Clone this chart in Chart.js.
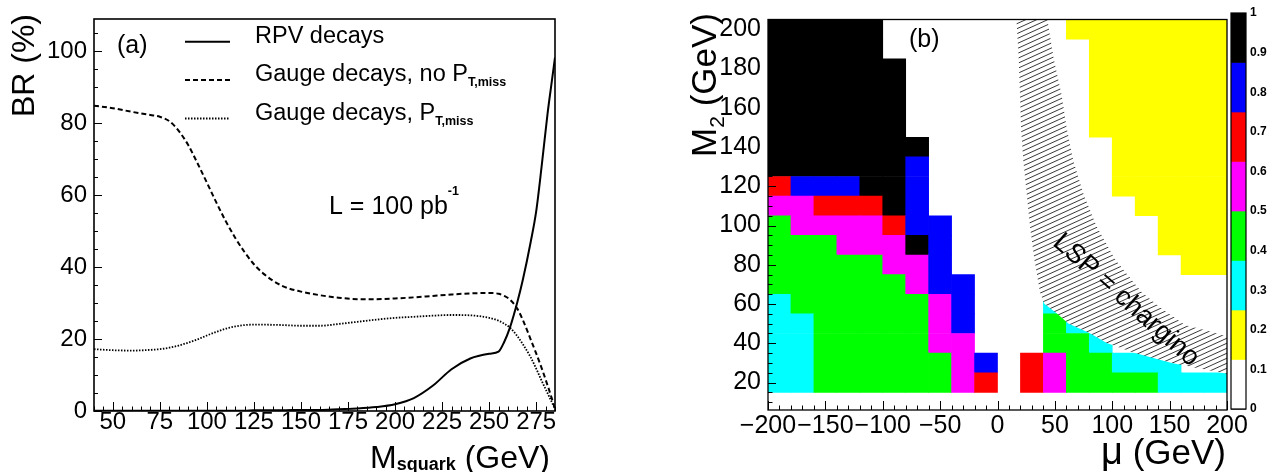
<!DOCTYPE html>
<html>
<head>
<meta charset="utf-8">
<title>Squark decays and chargino scan</title>
<script src="https://cdn.jsdelivr.net/npm/chart.js@4.4.1/dist/chart.umd.min.js"></script>
<style>
  html, body { margin: 0; padding: 0; background: #fff; }
  #page { position: relative; width: 1275px; height: 472px; overflow: hidden; }
  #page canvas { position: absolute; top: 0; }
</style>
</head>
<body>
<div id="page">
  <canvas id="brChart" width="600" height="472" style="left:0px"></canvas>
  <canvas id="scanChart" width="635" height="472" style="left:640px"></canvas>
  <canvas id="paletteChart" width="53" height="472" style="left:1222px"></canvas>
</div>
<script>
const FONT = '"Liberation Sans", Arial, Helvetica, sans-serif';
Chart.defaults.font.family = FONT;
Chart.defaults.color = '#000';

// (a) branching ratios (%) against squark mass (GeV)
const squarkMass = [40, 50, 60, 70, 75, 80, 85, 90, 95, 100, 105, 110, 115, 120, 125, 130, 140, 150, 160, 170,
  180, 190, 200, 210, 220, 230, 240, 250, 255, 258, 261, 265, 268, 272, 275, 278, 281, 283, 285];
const brRpv = [0.1, 0.1, 0.1, 0.1, 0.1, 0.1, 0.1, 0.1, 0.1, 0.1, 0.1, 0.1, 0.1, 0.1, 0.2, 0.2, 0.2, 0.3, 0.3, 0.5,
  0.7, 1.1, 1.9, 3.6, 7.0, 11.6, 14.6, 15.9, 16.5, 19.2, 23.1, 30.3, 36.7, 46.8, 55.5, 68.5, 82.5, 90.5, 98.3];
const brGaugeNoMiss = [84.9, 84.2, 83.2, 82.3, 81.8, 80.6, 77.9, 74.0, 68.9, 63.5, 58.0, 52.8, 48.2, 44.2, 40.8, 38.2, 34.8, 33.2, 32.2, 31.5,
  31.1, 31.1, 31.3, 31.6, 32.0, 32.4, 32.7, 32.8, 32.6, 32.0, 31.0, 28.4, 25.2, 20.0, 16.0, 11.8, 7.2, 4.0, 0.6];
const brGaugeMiss = [17.2, 16.9, 16.8, 17.0, 17.2, 17.6, 18.2, 19.0, 19.9, 21.0, 22.0, 22.9, 23.5, 23.9, 24.0, 24.0, 23.9, 23.7, 23.7, 24.2,
  24.8, 25.4, 25.9, 26.2, 26.5, 26.7, 26.6, 25.9, 25.1, 24.3, 23.2, 20.8, 18.5, 15.0, 11.8, 8.3, 5.0, 2.8, 0.5];
const seriesNames = ['RPV decays', 'Gauge decays, no P', 'Gauge decays, P'];
const seriesSubs = ['', 'T,miss', 'T,miss'];
const massTicks = [50, 75, 100, 125, 150, 175, 200, 225, 250, 275];
const brTicks = [0, 20, 40, 60, 80, 100];

// (b) BR(RPV) in the (mu, M2) plane, one character per cell
const muBins = [-190, -170, -150, -130, -110, -90, -70, -50, -30, -10, 10, 30, 50, 70, 90, 110, 130, 150, 170, 190];
const m2Bins = [200, 190, 180, 170, 160, 150, 140, 130, 120, 110, 100, 90, 80, 70, 60, 50, 40, 30, 20];
const scanRows = [
  'kkkkk........yyyyyyy',
  'kkkkk.........yyyyyy',
  'kkkkkk........yyyyyy',
  'kkkkkk........yyyyyy',
  'kkkkkk........yyyyyy',
  'kkkkkk........yyyyyy',
  'kkkkkkk........yyyyy',
  'kkkkkkb........yyyyy',
  'rbbbkkb........yyyyy',
  'mmrrrkb.........yyyy',
  'gmmmmrbb.........yyy',
  'gggmmmkb.........yyy',
  'gggggmmb..........yy',
  'ggggggmbb...........',
  'cggggggmb...c.......',
  'ccgggggmb...gc......',
  'ccgggggmm...ggc.....',
  'ccggggggmb.rmggccc..',
  'ccggggggmr.rmggggccc'
];
const cellBR = { y: 0.19, c: 0.31, g: 0.44, m: 0.56, r: 0.69, b: 0.81, k: 0.94 };
const muTicks = [-200, -150, -100, -50, 0, 50, 100, 150, 200];
const m2Ticks = [20, 40, 60, 80, 100, 120, 140, 160, 180, 200];

// LSP = chargino band (mu, M2)
const bandLowMu = [16.5, 18.5, 19.6, 20.5, 22.5, 25.4, 28.3, 32.1, 37.0, 40.8, 52.1, 61.7, 80.6, 95.2, 119.8, 151.8, 195.4, 200];
const bandLowM2 = [205, 185, 166.5, 149.7, 133, 116.3, 99.5, 82.8, 66, 60.2, 55.1, 50.1, 45.1, 40.1, 35.1, 30, 25, 24.5];
const bandHighMu = [43.5, 49, 55.9, 60.3, 66.1, 74.8, 86.4, 102.4, 125.7, 144, 163.4, 182, 200];
const bandHighM2 = [205, 185, 166.5, 149.7, 133, 116.3, 99.5, 82.8, 66, 57.2, 49.3, 46.5, 43.5];

// colour palette
const paletteEdges = [0, 0.125, 0.25, 0.375, 0.5, 0.625, 0.75, 0.875, 1];
const paletteColors = ['#ffffff', '#ffff00', '#00ffff', '#00ff00', '#ff00ff', '#ff0000', '#0000ff', '#000000'];
const paletteTicks = [0, 0.1, 0.2, 0.3, 0.4, 0.5, 0.6, 0.7, 0.8, 0.9, 1];

function range(a, b, step) {
    const out = [];
    for (let v = a; v <= b + 1e-9; v += step) out.push(+v.toFixed(6));
    return out;
}

function colorFor(br) {
    const k = Math.min(paletteColors.length - 1, Math.floor(br / 0.125));
    return paletteColors[k];
}

// text with sub/superscripts: parts = [text, size, dy, weight]
function richText(ctx, parts, x, y, align) {
    let w = 0;
    parts.forEach(p => {
        ctx.font = (p[3] || 'normal') + ' ' + p[1] + 'px ' + FONT;
        w += ctx.measureText(p[0]).width;
    });
    let cx = align === 'right' ? x - w : (align === 'center' ? x - w / 2 : x);
    ctx.textAlign = 'left';
    ctx.textBaseline = 'alphabetic';
    parts.forEach(p => {
        ctx.font = (p[3] || 'normal') + ' ' + p[1] + 'px ' + FONT;
        ctx.fillText(p[0], cx, y + (p[2] || 0));
        cx += ctx.measureText(p[0]).width;
    });
}

function drawInwardTicks(chart, axis, majors, minors, majorLen, minorLen) {
    const scale = chart.scales[axis];
    const a = chart.chartArea;
    const ctx = chart.ctx;
    ctx.save();
    ctx.strokeStyle = '#000';
    ctx.lineWidth = 1;
    ctx.beginPath();
    const mark = (v, len) => {
        const p = Math.round(scale.getPixelForValue(v)) + 0.5;
        if (axis === 'x') { ctx.moveTo(p, a.bottom); ctx.lineTo(p, a.bottom - len); }
        else { ctx.moveTo(a.left, p); ctx.lineTo(a.left + len, p); }
    };
    minors.forEach(v => mark(v, minorLen));
    majors.forEach(v => mark(v, majorLen));
    ctx.stroke();
    ctx.restore();
}

function drawFrame(chart, width) {
    const a = chart.chartArea;
    const ctx = chart.ctx;
    ctx.save();
    ctx.strokeStyle = '#000';
    ctx.lineWidth = width;
    ctx.strokeRect(a.left, a.top, a.right - a.left, a.bottom - a.top);
    ctx.restore();
}

// ---------- panel (a)
const panelA = {
    id: 'panelA',
    afterDatasetsDraw(chart) {
        const ctx = chart.ctx;
        const a = chart.chartArea;
        drawFrame(chart, 1.6);
        drawInwardTicks(chart, 'x', massTicks, range(40, 285, 5), 9, 4.5);
        drawInwardTicks(chart, 'y', brTicks, range(0, 105, 5), 8, 4);

        ctx.save();
        ctx.fillStyle = '#000';
        // legend
        const rows = [41.7, 80, 118.5];
        chart.data.datasets.forEach((ds, i) => {
            ctx.save();
            ctx.strokeStyle = ds.borderColor;
            ctx.lineWidth = ds.borderWidth;
            ctx.setLineDash(ds.borderDash || []);
            ctx.beginPath();
            ctx.moveTo(a.left + 91, rows[i]);
            ctx.lineTo(a.left + 136, rows[i]);
            ctx.stroke();
            ctx.restore();
            const parts = [[ds.label, 23.5]];
            if (seriesSubs[i]) parts.push([seriesSubs[i], 12.5, 5, 'bold']);
            richText(ctx, parts, a.left + 161, rows[i] + 1, 'left');
        });
        richText(ctx, [['(a)', 25]], a.left + 23, 53, 'left');
        richText(ctx, [['L = 100 pb', 25], ['-1', 12.5, -19, 'bold']], 329, 213.5, 'left');

        // axis titles
        richText(ctx, [['M', 32], ['squark', 18, 1.5, 'bold'], [' (GeV)', 32]], 550, 468, 'right');
        ctx.translate(34, 14);
        ctx.rotate(-Math.PI / 2);
        richText(ctx, [['BR (%)', 32]], 0, 0, 'right');
        ctx.restore();
    }
};

new Chart(document.getElementById('brChart'), {
    type: 'line',
    data: {
        datasets: [
            {
                label: seriesNames[0],
                data: squarkMass.map((m, i) => ({ x: m, y: brRpv[i] })),
                borderColor: '#000', borderWidth: 2, pointRadius: 0,
                cubicInterpolationMode: 'monotone'
            },
            {
                label: seriesNames[1],
                data: squarkMass.map((m, i) => ({ x: m, y: brGaugeNoMiss[i] })),
                borderColor: '#000', borderWidth: 2, borderDash: [5, 3], pointRadius: 0,
                cubicInterpolationMode: 'monotone'
            },
            {
                label: seriesNames[2],
                data: squarkMass.map((m, i) => ({ x: m, y: brGaugeMiss[i] })),
                borderColor: '#000', borderWidth: 1.8, borderDash: [1.5, 1.5], pointRadius: 0,
                cubicInterpolationMode: 'monotone'
            }
        ]
    },
    options: {
        responsive: false,
        animation: false,
        layout: { padding: { left: 0, right: 45, top: 13, bottom: 0 } },
        plugins: { legend: { display: false }, tooltip: { enabled: false } },
        scales: {
            x: {
                type: 'linear', min: 40, max: 285,
                afterBuildTicks: s => { s.ticks = massTicks.map(v => ({ value: v })); },
                afterFit: s => { s.height = 61; },
                grid: { display: false, drawTicks: false },
                border: { display: false },
                ticks: { autoSkip: false, maxRotation: 0, minRotation: 0, padding: -1, font: { size: 24, lineHeight: 1 } }
            },
            y: {
                type: 'linear', min: 0, max: 109,
                afterBuildTicks: s => { s.ticks = brTicks.map(v => ({ value: v })); },
                afterFit: s => { s.width = 94; },
                grid: { display: false, drawTicks: false },
                border: { display: false },
                ticks: { padding: 7, font: { size: 24, lineHeight: 1 } }
            }
        }
    },
    plugins: [panelA]
});

// ---------- panel (b)
const cellPoints = [];
const cellColors = [];
scanRows.forEach((row, j) => {
    [...row].forEach((ch, i) => {
        if (!(ch in cellBR)) return;
        cellPoints.push({ x: muBins[i], y: [m2Bins[j] - 5, m2Bins[j] + 5] });
        cellColors.push(colorFor(cellBR[ch]));
    });
});

const bandPath = bandLowMu.map((m, i) => ({ x: m, y: bandLowM2[i] }))
    .concat(bandHighMu.map((m, i) => ({ x: m, y: bandHighM2[i] })).reverse());

// white background with thin rising hatch lines
const hatch = (() => {
    const w = 11, h = 5;
    const tile = document.createElement('canvas');
    tile.width = w; tile.height = h;
    const g = tile.getContext('2d');
    g.fillStyle = '#ffffff';
    g.fillRect(0, 0, w, h);
    g.strokeStyle = '#222';
    g.lineWidth = 0.9;
    for (let k = -1; k <= 1; k++) {
        g.beginPath();
        g.moveTo(0, h + h * k);
        g.lineTo(w, h * k);
        g.stroke();
    }
    return g.createPattern(tile, 'repeat');
})();

const panelB = {
    id: 'panelB',
    afterDatasetsDraw(chart) {
        const ctx = chart.ctx;
        const a = chart.chartArea;
        const sx = chart.scales.x, sy = chart.scales.y;
        drawFrame(chart, 1.3);
        drawInwardTicks(chart, 'x', muTicks, range(-200, 200, 10), 9, 4.5);
        drawInwardTicks(chart, 'y', m2Ticks, range(10, 205, 5), 8, 4.5);

        ctx.save();
        ctx.fillStyle = '#000';
        richText(ctx, [['(b)', 25]], a.left + 141, 47, 'left');

        // band label
        ctx.save();
        ctx.translate(sx.getPixelForValue(112), sy.getPixelForValue(62));
        ctx.rotate(41.5 * Math.PI / 180);
        ctx.font = '27px ' + FONT;
        ctx.textAlign = 'center';
        ctx.textBaseline = 'middle';
        ctx.fillText('LSP = chargino', 0, 0);
        ctx.restore();

        // axis titles
        richText(ctx, [['\u03bc', 38], [' (GeV)', 35]], a.right - 1, 464, 'right');
        ctx.translate(76, 13);
        ctx.rotate(-Math.PI / 2);
        richText(ctx, [['M', 35], ['2', 21, 8], [' (GeV)', 35]], 0, 0, 'right');
        ctx.restore();
    }
};

new Chart(document.getElementById('scanChart'), {
    type: 'bar',
    data: {
        datasets: [
            {
                type: 'line',
                label: 'LSP = chargino',
                data: bandPath,
                fill: 'shape',
                backgroundColor: hatch,
                borderColor: 'rgba(0,0,0,0)',
                borderWidth: 0,
                pointRadius: 0,
                tension: 0,
                order: 0
            },
            {
                label: 'BR(RPV)',
                data: cellPoints,
                backgroundColor: cellColors,
                borderWidth: 0,
                barPercentage: 1,
                categoryPercentage: 1,
                order: 1
            }
        ]
    },
    options: {
        responsive: false,
        animation: false,
        layout: { padding: { left: 0, right: 48, top: 13, bottom: 0 } },
        plugins: { legend: { display: false }, tooltip: { enabled: false } },
        scales: {
            x: {
                type: 'linear', min: -200, max: 200, offset: false,
                afterBuildTicks: s => { s.ticks = muTicks.map(v => ({ value: v })); },
                afterFit: s => { s.height = 62; },
                grid: { display: false, drawTicks: false, offset: false },
                border: { display: false },
                ticks: {
                    autoSkip: false, maxRotation: 0, minRotation: 0, padding: 4,
                    font: { size: 25, lineHeight: 1 },
                    callback: v => v < 0 ? '\u2212' + Math.abs(v) : String(v)
                }
            },
            y: {
                type: 'linear', min: 6, max: 205, beginAtZero: false,
                afterBuildTicks: s => { s.ticks = m2Ticks.map(v => ({ value: v })); },
                afterFit: s => { s.width = 128; },
                grid: { display: false, drawTicks: false },
                border: { display: false },
                ticks: { padding: 7, font: { size: 25, lineHeight: 1 } }
            }
        }
    },
    plugins: [panelB]
});

// ---------- colour scale
const paletteFrame = {
    id: 'paletteFrame',
    afterDraw(chart) { drawFrame(chart, 1.2); }
};

new Chart(document.getElementById('paletteChart'), {
    type: 'bar',
    data: {
        labels: ['BR'],
        datasets: [{
            data: paletteColors.map((c, i) => ({ x: 'BR', y: [paletteEdges[i], paletteEdges[i + 1]] })),
            backgroundColor: paletteColors,
            borderWidth: 0,
            barPercentage: 1,
            categoryPercentage: 1
        }]
    },
    options: {
        responsive: false,
        animation: false,
        layout: { padding: { left: 9, right: 0, top: 13, bottom: 63 } },
        plugins: { legend: { display: false }, tooltip: { enabled: false } },
        scales: {
            x: { display: false },
            y: {
                position: 'right', min: 0, max: 1, z: 1,
                afterBuildTicks: s => { s.ticks = paletteTicks.map(v => ({ value: v })); },
                afterFit: s => { s.width = 29; },
                grid: { drawTicks: false, color: 'rgba(0,0,0,0.6)', lineWidth: 1 },
                border: { display: false },
                ticks: {
                    padding: 4, font: { size: 12, weight: 'bold', lineHeight: 1 },
                    callback: v => String(+v.toFixed(1))
                }
            }
        }
    },
    plugins: [paletteFrame]
});
</script>
</body>
</html>
